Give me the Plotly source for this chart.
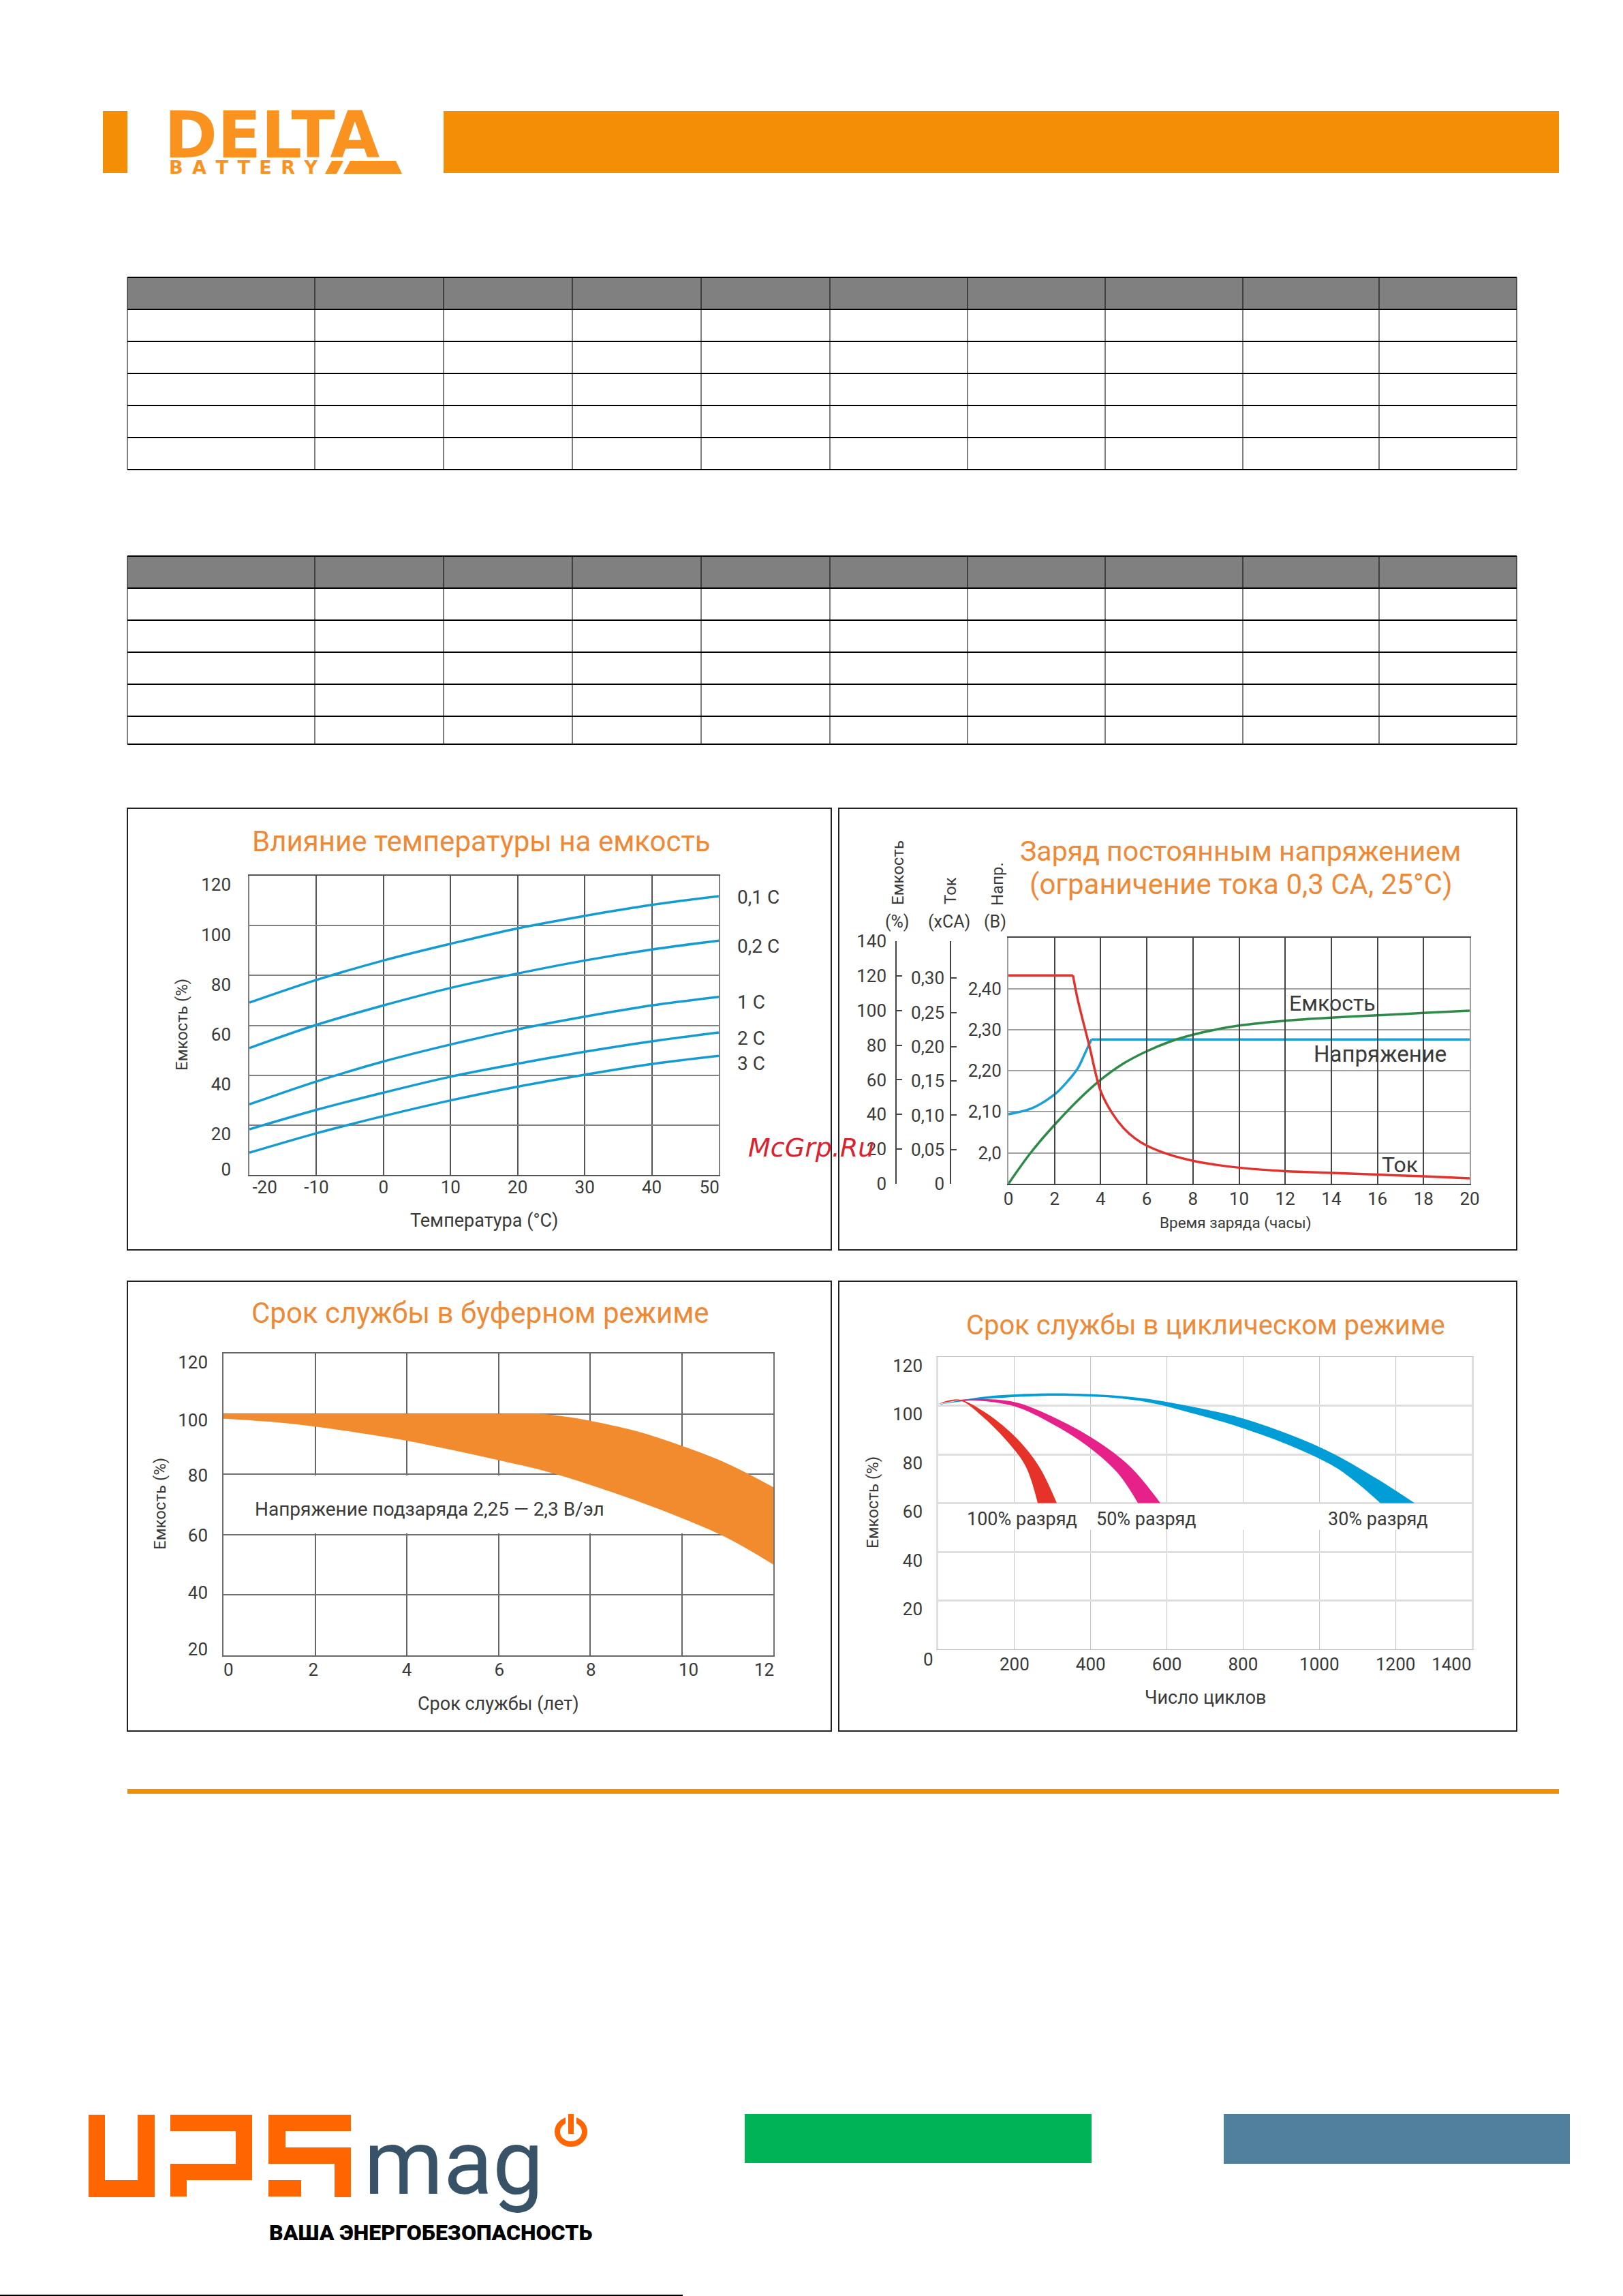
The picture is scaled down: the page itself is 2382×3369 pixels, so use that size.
import plotly.graph_objects as go

W = 2382
H = 3369
FONT = "Roboto"
TXT = "#3a3a3a"
TITLE = "#EE8A37"
ORANGE = "#F48E04"

# temperature chart
temp_x = [-20, -10, 0, 10, 20, 30, 40, 50]
temp_01c = [69.1, 78.2, 86.0, 92.7, 98.9, 103.9, 108.3, 111.8]
temp_02c = [50.9, 60.2, 68.0, 75.0, 80.8, 86.0, 90.4, 94.0]
temp_1c = [28.3, 37.5, 45.5, 52.3, 58.4, 63.5, 68.0, 71.4]
temp_2c = [18.3, 26.1, 33.0, 39.4, 44.6, 49.4, 53.6, 57.1]
temp_3c = [8.9, 16.7, 23.6, 29.9, 35.4, 40.2, 44.5, 47.8]
temp_ylabels = ["120", "100", "80", "60", "40", "20", "0"]
temp_ylabel_pos = [116.5, 96.3, 76.3, 56.3, 36.5, 16.5, 2.3]
temp_xlabels = ["-20", "-10", "0", "10", "20", "30", "40", "50"]
temp_xlabel_pos = [-17.7, -10, 0, 10, 20, 30, 40, 48.6]

# constant voltage charge
volt_h = [0, 1, 2, 2.5, 3, 3.3, 3.6]
volt_v = [2.094, 2.108, 2.142, 2.17, 2.205, 2.24, 2.276]
volt_flat_h = [3.6, 20]
volt_flat_v = [2.276, 2.276]
curr_flat_h = [0, 2.8]
curr_flat_a = [0.304, 0.304]
curr_h = [2.8, 3, 3.5, 4, 4.5, 5, 5.5, 6, 7, 8, 9, 10, 12, 14, 16, 18, 20]
curr_a = [0.304, 0.2695, 0.2024, 0.1354, 0.103, 0.0809, 0.066, 0.0557, 0.0423, 0.0335, 0.0277, 0.0235,
          0.0184, 0.0159, 0.0134, 0.0109, 0.008]
cap_h = [0, 1, 2, 3, 4, 5, 6, 7, 8, 9, 10, 12, 14, 16, 18, 20]
cap_pct = [0, 18.5, 34, 48, 60, 69.5, 76.5, 82, 86, 89, 91.3, 94.1, 95.9, 97.2, 98.6, 99.9]

# float service life
float_up_x = [0, 2, 4, 6, 6.76, 7, 7.5, 8, 9, 10, 11, 12]
float_up_y = [100, 100, 100, 100, 100, 99.9, 99, 97.7, 94.3, 89.4, 83.5, 75.7]
float_lo_x = [0, 1, 2, 3, 4, 5, 6, 7, 8, 9, 10, 11, 12]
float_lo_y = [98.4, 97.4, 95.8, 93.6, 91.1, 88, 84.7, 81.1, 76.5, 71.3, 65.5, 58.8, 50.1]
float_ylabels = ["120", "100", "80", "60", "40", "20"]
float_ylabel_pos = [117, 98, 79.6, 59.8, 40.7, 22]
float_xlabels = ["0", "2", "4", "6", "8", "10", "12"]
float_xlabel_pos = [0.11, 1.96, 4, 6.02, 8.02, 10.15, 11.8]

# cycle life
blue_up_x = [0, 128, 344, 527, 698, 800, 926, 1040, 1154, 1250]
blue_up_y = [100.4, 103.8, 105, 103.2, 98.5, 94.7, 87.9, 80, 69.7, 60]
blue_lo_x = [0, 128, 344, 527, 698, 800, 926, 1040, 1097, 1160]
blue_lo_y = [100.4, 102.8, 104, 102.0, 95.5, 90.7, 83.4, 74.9, 68.5, 60]
pink_up_x = [0, 48, 116, 207, 299, 413, 504, 583]
pink_up_y = [100.6, 102.2, 102.7, 101.2, 95.5, 85.8, 74.9, 60]
pink_lo_x = [0, 48, 116, 207, 299, 390, 470, 524]
pink_lo_y = [100.6, 102, 101.9, 99.4, 92.5, 83.6, 72.5, 60]
red_up_x = [0, 25, 59, 128, 207, 265, 311]
red_up_y = [100.6, 102, 102.4, 96.7, 86.4, 74.9, 60]
red_lo_x = [0, 25, 59, 116, 185, 230, 261]
red_lo_y = [100.6, 101.5, 102, 95.5, 84.6, 74.9, 60]
cyc_ylabels = ["120", "100", "80", "60", "40", "20"]
cyc_ylabel_pos = [116.5, 96.5, 76.4, 56.4, 36.5, 16.4]
cyc_xlabels = ["200", "400", "600", "800", "1000", "1200", "1400"]
cyc_xlabel_pos = [200, 400, 600, 800, 1000, 1200, 1347]

# tables (empty in the source, header row is grey)
table_cols = [187, 462, 651, 840, 1029, 1218, 1420, 1622, 1824, 2024, 2226]
table1_rows = [407, 454, 501, 548, 595, 642, 689]
table2_rows = [816, 863, 910, 957, 1004, 1051, 1092]


def px(x):
    return x / W


def py(y):
    return 1 - y / H


def dom_y(top, bottom):
    return [py(bottom), py(top)]


shapes = []
annots = []


def rect(x0, y0, x1, y1, fill, line=None, width=0):
    shapes.append(dict(type="rect", xref="paper", yref="paper", x0=px(x0), x1=px(x1), y0=py(y0), y1=py(y1),
                       fillcolor=fill, line=dict(color=line, width=width) if line else dict(width=0)))


def seg(x0, y0, x1, y1, color="black", width=2):
    shapes.append(dict(type="line", xref="paper", yref="paper", x0=px(x0), x1=px(x1), y0=py(y0), y1=py(y1),
                       line=dict(color=color, width=width)))


def poly(points, fill):
    d = "M " + " L ".join(f"{px(a):.5f},{py(b):.5f}" for a, b in points) + " Z"
    shapes.append(dict(type="path", xref="paper", yref="paper", path=d, fillcolor=fill, line=dict(width=0)))


def txt(x, y, text, size=25, color=TXT, anchor="center", angle=0, family=FONT, **font_kw):
    annots.append(dict(x=px(x), y=py(y), xref="paper", yref="paper", text=text, showarrow=False,
                       xanchor=anchor, yanchor="middle", textangle=angle, borderpad=0,
                       font=dict(size=size, color=color, family=family, **font_kw)))


def table(rows):
    rect(table_cols[0], rows[0], table_cols[-1], rows[1], "#808080")
    for y in rows:
        seg(table_cols[0], y, table_cols[-1], y, width=2)
    for x in table_cols:
        seg(x, rows[0], x, rows[-1], width=1)


# page furniture
rect(151, 163, 187, 254, ORANGE)
rect(651, 163, 2288, 254, ORANGE)
rect(187, 2625, 2288, 2632, "#F49000")
table(table1_rows)
table(table2_rows)

txt(240, 198, "DELTA", size=94, color="#F9921F", anchor="left", family="DejaVu Sans", weight=700)
txt(247, 246, "B\u2002A\u2002T\u2002T\u2002E\u2002R\u2002Y", size=27, color="#F9921F", anchor="left",
    family="DejaVu Sans", weight=700)
poly([(477, 255), (487, 236), (504, 236), (494, 255)], "#F9921F")
poly([(504, 255), (514, 236), (581, 236), (590, 255)], "#F9921F")

# footer
UPS = "#FF6600"
poly([(130, 3103), (154, 3103), (154, 3199), (202, 3199), (202, 3103), (227, 3103), (227, 3224), (130, 3224)], UPS)
poly([(250, 3103), (370, 3103), (370, 3199), (274, 3199), (274, 3223), (250, 3223), (250, 3175), (346, 3175),
      (346, 3127), (250, 3127)], UPS)
poly([(394, 3103), (515, 3103), (515, 3127), (419, 3127), (419, 3151), (515, 3151), (515, 3224), (491, 3224),
      (491, 3175), (394, 3175)], UPS)
rect(394, 3199, 442, 3223, UPS)
txt(533, 3173, "mag", size=133, color="#385268", anchor="left")
shapes.append(dict(type="circle", xref="paper", yref="paper", x0=px(818), x1=px(858), y0=py(3146), y1=py(3110),
                   fillcolor="rgba(0,0,0,0)", line=dict(color=UPS, width=8)))
rect(830, 3100, 846, 3125, "white")
rect(834, 3102, 842, 3131, UPS)
txt(394, 3276, "ВАША ЭНЕРГОБЕЗОПАСНОСТЬ", size=32, color="black", anchor="left", weight=900)
rect(1093, 3102, 1602, 3174, "#00B356")
rect(1796, 3102, 2304, 3175, "#50809B")
seg(0, 3368, 1002, 3368, width=2)

# chart panels
for box in [(187, 1186, 1220, 1834), (1231, 1186, 2226, 1834), (187, 1880, 1220, 2540), (1231, 1880, 2226, 2540)]:
    rect(box[0], box[1], box[2], box[3], "rgba(0,0,0,0)", line="#222222", width=2)

fig = go.Figure()
axes = {}


def panel(n, left, right, top, bottom, xr, yr, xgrid, ygrid, xcol, ycol, xw, yw, xlabels=None, xpos=None,
          ylabels=None, ypos=None, xstand=8, ystand=22):
    xname = "xaxis" if n == 1 else f"xaxis{n}"
    yname = "yaxis" if n == 1 else f"yaxis{n}"
    tag = "" if n == 1 else str(n)
    axes[xname] = dict(domain=[px(left), px(right)], range=xr, anchor="y" + tag, tickvals=xgrid, showticklabels=False,
                       showgrid=True, gridcolor=xcol, gridwidth=xw, zeroline=False, showline=True, mirror=True,
                       linecolor=xcol, linewidth=xw, ticks="")
    axes[yname] = dict(domain=dom_y(top, bottom), range=yr, anchor="x" + tag, tickvals=ygrid, showticklabels=False,
                       showgrid=True, gridcolor=ycol, gridwidth=yw, zeroline=False, showline=True, mirror=True,
                       linecolor=ycol, linewidth=yw, ticks="")
    # tick labels sit away from the grid lines in the source, so they get their own axes
    if xlabels:
        m = n + 10
        axes[f"xaxis{m}"] = dict(overlaying="x" + tag, range=xr, anchor="y" + tag, side="bottom", tickvals=xpos,
                                 ticktext=xlabels, showgrid=False, zeroline=False, showline=False, ticks="",
                                 ticklabelstandoff=xstand, tickfont=dict(size=26, color=TXT, family=FONT))
        axes[f"yaxis{m}"] = dict(overlaying="y" + tag, range=yr, anchor="x" + tag, side="left", tickvals=ypos,
                                 ticktext=ylabels, showgrid=False, zeroline=False, showline=False, ticks="",
                                 ticklabelstandoff=ystand, tickfont=dict(size=26, color=TXT, family=FONT))
        fig.add_trace(go.Scatter(x=xr, y=yr, xaxis=f"x{m}", yaxis=f"y{m}", mode="none", showlegend=False))


# temperature
panel(1, 366, 1055, 1285, 1724, [-20, 50], [0, 120], temp_x, list(range(0, 121, 20)), "#555555", "#808080", 1.5, 2,
      temp_xlabels, temp_xlabel_pos, temp_ylabels, temp_ylabel_pos, xstand=0, ystand=26)
for vals in [temp_01c, temp_02c, temp_1c, temp_2c, temp_3c]:
    fig.add_trace(go.Scatter(x=temp_x, y=vals, mode="lines", line=dict(color="#149BD2", width=3.5, shape="spline"),
                             xaxis="x", yaxis="y", showlegend=False))
txt(706, 1235, "Влияние температуры на емкость", size=42, color=TITLE)
txt(267, 1504, "Емкость (%)", size=24, angle=-90)
txt(710, 1791, "Температура (°C)", size=27)
for label, y in zip(["0,1 C", "0,2 C", "1 C", "2 C", "3 C"], [1316, 1389, 1470, 1523, 1560]):
    txt(1081, y, label, size=28, anchor="left")

# constant voltage: three independent value axes on the same time axis
panel(2, 1480, 2157, 1376, 1737, [0, 20], [1.9245, 2.5238], list(range(0, 21, 2)), [2.0, 2.1, 2.2, 2.3, 2.4],
      "#444444", "#a0a0a0", 1.5, 2)
axes["xaxis2"].update(showticklabels=True, ticktext=[str(v) for v in range(0, 21, 2)],
                      tickfont=dict(size=26, color=TXT, family=FONT), ticklabelstandoff=-2)
axes["yaxis2"].update(showticklabels=True, ticktext=["2,0", "2,10", "2,20", "2,30", "2,40"],
                      tickfont=dict(size=26, color=TXT, family=FONT), ticklabelstandoff=3)
axes["yaxis3"] = dict(domain=dom_y(1381, 1737), range=[0, 140], anchor="free", position=px(1315), side="left",
                      tickvals=list(range(0, 141, 20)), ticks="inside", ticklen=8, tickcolor="#444444", tickwidth=1.5,
                      showline=True, linecolor="#444444", linewidth=1.5, showgrid=False, zeroline=False,
                      ticklabelstandoff=8, tickfont=dict(size=26, color=TXT, family=FONT))
axes["yaxis4"] = dict(domain=dom_y(1381, 1737), range=[0, 0.354], anchor="free", position=px(1395), side="left",
                      tickvals=[0, 0.05, 0.1, 0.15, 0.2, 0.25, 0.3],
                      ticktext=["0", "0,05", "0,10", "0,15", "0,20", "0,25", "0,30"],
                      ticks="inside", ticklen=8, tickcolor="#444444", tickwidth=1.5, showline=True,
                      linecolor="#444444", linewidth=1.5, showgrid=False, zeroline=False,
                      ticklabelstandoff=3, tickfont=dict(size=26, color=TXT, family=FONT))
fig.add_trace(go.Scatter(x=cap_h, y=cap_pct, mode="lines", line=dict(color="#2E8B47", width=3.5, shape="spline"),
                         xaxis="x2", yaxis="y3", showlegend=False))
fig.add_trace(go.Scatter(x=curr_flat_h, y=curr_flat_a, mode="lines", line=dict(color="#E2322E", width=3.5),
                         xaxis="x2", yaxis="y4", showlegend=False))
fig.add_trace(go.Scatter(x=curr_h, y=curr_a, mode="lines", line=dict(color="#E2322E", width=3.5, shape="spline"),
                         xaxis="x2", yaxis="y4", showlegend=False))
fig.add_trace(go.Scatter(x=volt_h, y=volt_v, mode="lines", line=dict(color="#1BA0D7", width=3.5, shape="spline"),
                         xaxis="x2", yaxis="y2", showlegend=False))
fig.add_trace(go.Scatter(x=volt_flat_h, y=volt_flat_v, mode="lines", line=dict(color="#1BA0D7", width=3.5),
                         xaxis="x2", yaxis="y2", showlegend=False))
txt(1820, 1249, "Заряд постоянным напряжением", size=41, color=TITLE)
txt(1821, 1298, "(ограничение тока 0,3 CA, 25°C)", size=42, color=TITLE)
txt(1318, 1281, "Емкость", size=24, angle=-90)
txt(1395, 1307, "Ток", size=24, angle=-90)
txt(1464, 1297, "Напр.", size=24, angle=-90)
txt(1317, 1352, "(%)")
txt(1393, 1352, "(xCA)")
txt(1460, 1352, "(В)")
txt(1813, 1794, "Время заряда (часы)", size=22.5)
txt(1956, 1472, "Емкость", size=32)
txt(2026, 1546, "Напряжение", size=33)
txt(2054, 1709, "Ток", size=32)

# float life
panel(5, 328, 1135, 1986, 2429, [0, 12], [20, 120], [0, 2, 4, 6, 8, 10, 12], [20, 40, 60, 80, 100, 120],
      "#666666", "#707070", 1.5, 1.5, float_xlabels, float_xlabel_pos, float_ylabels, float_ylabel_pos,
      xstand=3, ystand=22)
shapes.append(dict(type="rect", xref="x5", yref="y5", x0=0, x1=12, y0=60.4, y1=79.6, fillcolor="white",
                   line=dict(width=0), layer="between"))
fig.add_trace(go.Scatter(x=float_up_x, y=float_up_y, mode="lines", line=dict(width=0, shape="spline"),
                         xaxis="x5", yaxis="y5", showlegend=False))
fig.add_trace(go.Scatter(x=float_lo_x, y=float_lo_y, mode="lines", line=dict(width=0, shape="spline"),
                         fill="tonexty", fillcolor="#F28A2E", xaxis="x5", yaxis="y5", showlegend=False))
txt(705, 1926, "Срок службы в буферном режиме", size=42, color=TITLE)
txt(235, 2207, "Емкость (%)", size=24, angle=-90)
txt(731, 2500, "Срок службы (лет)", size=27)
txt(630, 2214, "Напряжение подзаряда 2,25 — 2,3 В/эл", size=28)

# cycle life
panel(6, 1377, 2160, 1991, 2420, [0, 1400], [0, 120], list(range(0, 1401, 200)), list(range(0, 121, 20)),
      "#c4c4c4", "#dedede", 1, 2.5, cyc_xlabels, cyc_xlabel_pos, cyc_ylabels, cyc_ylabel_pos, xstand=4, ystand=22)
shapes.append(dict(type="rect", xref="x6", yref="y6", x0=0, x1=1400, y0=49, y1=59.6, fillcolor="white",
                   line=dict(width=0), layer="between"))
for up_x, up_y, lo_x, lo_y, color in [(blue_up_x, blue_up_y, blue_lo_x, blue_lo_y, "#009DD6"),
                                      (pink_up_x, pink_up_y, pink_lo_x, pink_lo_y, "#E6218A"),
                                      (red_up_x, red_up_y, red_lo_x, red_lo_y, "#E5332A")]:
    fig.add_trace(go.Scatter(x=up_x, y=up_y, mode="lines", line=dict(width=0, shape="spline"),
                             xaxis="x6", yaxis="y6", showlegend=False))
    fig.add_trace(go.Scatter(x=lo_x, y=lo_y, mode="lines", line=dict(width=0, shape="spline"),
                             fill="tonexty", fillcolor=color, xaxis="x6", yaxis="y6", showlegend=False))
txt(1770, 1944, "Срок службы в циклическом режиме", size=40, color=TITLE)
txt(1281, 2205, "Емкость (%)", size=24, angle=-90)
txt(1769, 2491, "Число циклов", size=27)
txt(1362, 2435, "0", size=26)
txt(1500, 2229, "100% разряд", size=27)
txt(1682, 2229, "50% разряд", size=27)
txt(2022, 2229, "30% разряд", size=27)

txt(1097, 1684, "McGrp.Ru", size=38, color="#D9232E", anchor="left", family="DejaVu Sans", style="italic")

fig.update_layout(width=W, height=H, margin=dict(l=0, r=0, t=0, b=0, autoexpand=False), paper_bgcolor="white",
                  plot_bgcolor="rgba(0,0,0,0)", showlegend=False, shapes=shapes, annotations=annots, **axes)
fig.write_html("out.html", post_script="document.body.style.margin='0';", config=dict(displayModeBar=False))
